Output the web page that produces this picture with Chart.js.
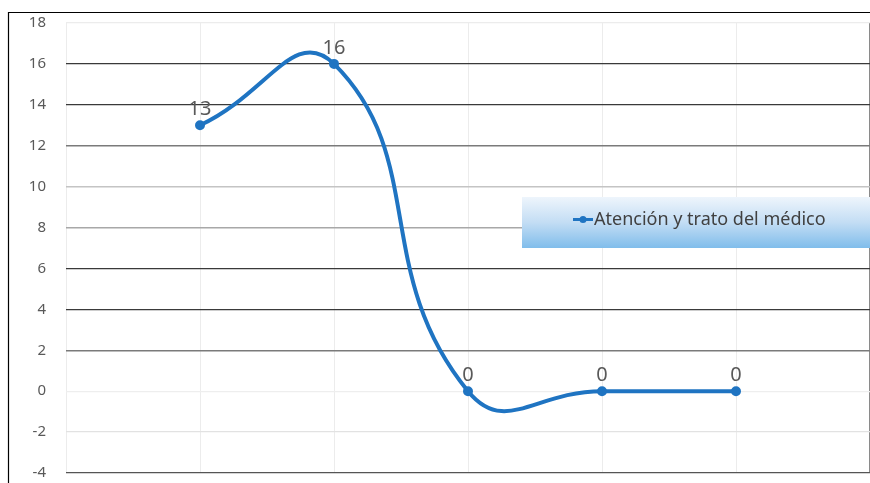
<!DOCTYPE html>
<html lang="es">
<head>
  <meta charset="UTF-8" />
  <title>Atención y trato del médico</title>
  <style>
    body, html {
      margin: 0;
      background: #fff;
      overflow: hidden;
      font-family: 'Noto Sans', sans-serif;
    }
    #chart {
      display: block;
    }
  </style>
</head>
<body>

<canvas id="chart" width="877" height="483"></canvas>

<script src="https://cdn.jsdelivr.net/npm/chart.js"></script>
<script>
  // categories (ends are empty slots, as in the original sheet)
  const categories = ['', '1', '2', '3', '4', '5', ''];
  const values = [null, 13, 16, 0, 0, 0, null];
  const seriesName = 'Atención y trato del médico';
  const yMin = -4, yMax = 18, yStep = 2;

  const lineColor = '#1f74c2';

  // grid colours, per y value
  const gridColors = {
    '18': '#ececec', '16': '#3a3a3a', '14': '#3a3a3a', '12': '#7a7a7a',
    '10': '#c4c4c4', '8': '#a8a8a8', '6': '#3a3a3a', '4': '#3a3a3a',
    '2': '#7a7a7a', '0': '#eeeeee', '-2': '#e2e2e2', '-4': '#555555'
  };

  const frame = {
    id: 'frame',
    beforeDraw(chart) {
      const ctx = chart.ctx;
      ctx.save();
      ctx.strokeStyle = '#000';
      ctx.lineWidth = 1.2;
      ctx.beginPath();
      ctx.moveTo(8.5, 483);
      ctx.lineTo(8.5, 12.5);
      ctx.lineTo(877, 12.5);
      ctx.stroke();
      ctx.restore();
    }
  };

  const pointLabels = {
    id: 'pointLabels',
    afterDatasetsDraw(chart) {
      const ctx = chart.ctx;
      const meta = chart.getDatasetMeta(0);
      ctx.save();
      ctx.font = '20px "Noto Sans"';
      ctx.fillStyle = '#595959';
      ctx.textAlign = 'center';
      ctx.textBaseline = 'middle';
      meta.data.forEach((pt, i) => {
        if (values[i] === null) return;
        ctx.fillText(String(values[i]), pt.x, pt.y - 16);
      });
      ctx.restore();
    }
  };

  const fancyLegend = {
    id: 'fancyLegend',
    afterDraw(chart) {
      const ctx = chart.ctx;
      const x = 522, y = 197, w = 348, h = 51;
      ctx.save();
      const g = ctx.createLinearGradient(0, y, 0, y + h);
      g.addColorStop(0, '#eef5fc');
      g.addColorStop(0.5, '#c3ddf4');
      g.addColorStop(1, '#80bdeb');
      ctx.fillStyle = g;
      ctx.fillRect(x, y, w, h);

      const cy = y + h / 2 - 3;
      ctx.strokeStyle = lineColor;
      ctx.lineWidth = 3;
      ctx.beginPath();
      ctx.moveTo(573, cy);
      ctx.lineTo(593, cy);
      ctx.stroke();
      ctx.fillStyle = lineColor;
      ctx.beginPath();
      ctx.arc(583, cy, 3.5, 0, Math.PI * 2);
      ctx.fill();

      ctx.font = '18px "Noto Sans"';
      ctx.fillStyle = '#404040';
      ctx.textAlign = 'left';
      ctx.textBaseline = 'middle';
      ctx.fillText(seriesName, 594, cy);
      ctx.restore();
    }
  };

  new Chart(document.getElementById('chart').getContext('2d'), {
    type: 'line',
    data: {
      labels: categories,
      datasets: [{
        label: seriesName,
        data: values,
        borderColor: lineColor,
        backgroundColor: lineColor,
        borderWidth: 4,
        tension: 0.5,
        pointRadius: 3,
        pointHoverRadius: 3
      }]
    },
    options: {
      responsive: false,
      animation: false,
      layout: { padding: { top: 23, right: 1, bottom: 10, left: 0 } },
      plugins: {
        legend: { display: false },
        tooltip: { enabled: false }
      },
      scales: {
        x: {
          offset: false,
          afterFit: s => {
            s.height = 0;
            s.paddingLeft = 0;
            s.paddingRight = 0;
          },
          ticks: { display: false },
          border: { display: false },
          grid: {
            offset: false,
            drawTicks: false,
            color: c => c.index === categories.length - 1 ? '#8a8a8a' : '#ececec',
            lineWidth: c => c.index === categories.length - 1 ? 1.5 : 1
          }
        },
        y: {
          min: yMin,
          max: yMax,
          afterFit: s => {
            s.width = 66;
            s.paddingTop = 0;
            s.paddingBottom = 0;
          },
          border: { display: false },
          ticks: {
            stepSize: yStep,
            padding: 20,
            color: '#595959',
            font: { family: 'Noto Sans', size: 15 }
          },
          grid: {
            drawTicks: false,
            color: c => gridColors[String(c.tick.value)] || '#dddddd',
            lineWidth: c => {
              const v = c.tick.value;
              return (v === 12 || v === 2 || v === 10 || v === 8) ? 1.5 : 1.2;
            }
          }
        }
      }
    },
    plugins: [frame, pointLabels, fancyLegend]
  });
</script>

</body>
</html>
